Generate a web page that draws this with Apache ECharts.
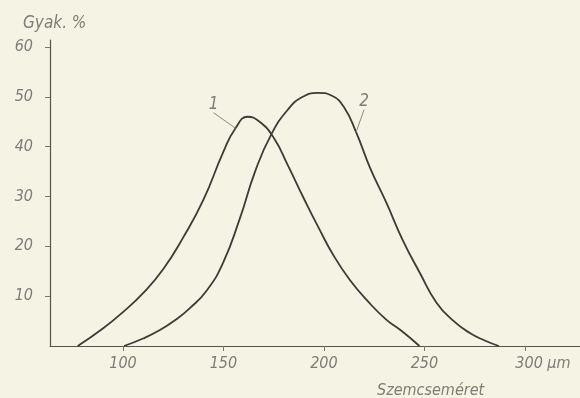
<!DOCTYPE html>
<html>
<head>
<meta charset="utf-8">
<script src="https://cdn.jsdelivr.net/npm/echarts@6/dist/echarts.min.js"></script>
<style>
html,body{margin:0;padding:0;background:#f5f3e3;}
#c{width:580px;height:398px;}
</style>
</head>
<body>
<div id="c"></div>
<script>
// Curve 1: particle size (µm) and frequency (%)
const size1 = [77.5, 90, 100, 110, 120, 130, 140, 150, 156, 162, 168, 175, 182, 190, 197, 205, 213, 222, 231, 239, 247.5];
const freq1 = [0, 3.5, 6.8, 10.6, 15.4, 21.8, 29.3, 39.0, 43.7, 46.0, 45.0, 41.8, 36.3, 29.6, 24.0, 18.0, 13.2, 8.9, 5.3, 2.9, 0];
// Curve 2
const size2 = [100.5, 110, 118.4, 126, 133.3, 141.8, 149.8, 158, 166, 174, 182, 189, 197, 204, 210, 216, 223, 231, 239, 247.8, 256, 264, 272.6, 280, 287];
const freq2 = [0, 1.5, 3.2, 5.2, 7.6, 11.2, 16.7, 25.4, 35.3, 42.6, 47.4, 49.9, 50.8, 50.2, 47.9, 42.9, 35.7, 28.8, 21.4, 14.6, 8.7, 5.2, 2.6, 1.1, 0];
// Curve labels and where they attach (index into data)
const curveNames = ['1', '2'];
const labelIndex = [8, 15];
// Axis ticks
const xTicks = [100, 150, 200, 250, 300];
const yTicks = [10, 20, 30, 40, 50, 60];
const xUnit = 'μm';
const xTitle = 'Szemcseméret';
const yTitle = 'Gyak. %';

const FONT = "'Liberation Sans Narrow','DejaVu Sans Condensed','Liberation Sans',sans-serif";
const TXT = '#7d7d78';
const LINE = '#3b3b38';

function build(xs, ys, li, name) {
  return xs.map((x, i) => {
    const d = {value: [x, ys[i]]};
    if (i === li) {
      d.label = {show: true, formatter: name};
      d.labelLine = {show: true};
    }
    return d;
  });
}

const chart = echarts.init(document.getElementById('c'));
const mkSeries = (xs, ys, li, name, dx, dy) => ({
  type: 'line',
  name: name,
  data: build(xs, ys, li, name),
  smooth: 0.5,
  symbol: 'circle',
  symbolSize: 0.01,
  showSymbol: true,
  lineStyle: {color: LINE, width: 1.8},
  itemStyle: {color: LINE},
  label: {show: false, position: 'inside', fontFamily: FONT, fontStyle: 'italic', fontSize: 17, color: TXT},
  labelLine: {show: false, lineStyle: {color: '#8a8a85', width: 1}},
  labelLayout: () => ({dx: dx, dy: dy}),
  emphasis: {disabled: true},
  animation: false
});

chart.setOption({
  backgroundColor: '#f5f3e3',
  animation: false,
  grid: {left: 50, right: 0, top: 40, bottom: 52, containLabel: false},
  xAxis: {
    type: 'value',
    min: 63.7,
    max: 327.4,
    splitLine: {show: false},
    axisLine: {show: true, lineStyle: {color: '#55554f', width: 1.2}},
    axisTick: {show: true, customValues: xTicks, length: 5, lineStyle: {color: '#777'}},
    axisLabel: {
      customValues: xTicks,
      margin: 10,
      fontFamily: FONT, fontStyle: 'italic', fontSize: 16, color: TXT,
      formatter: v => v === 300 ? '{u|' + v + ' ' + xUnit + '}' : String(v),
      rich: {u: {fontFamily: FONT, fontStyle: 'italic', fontSize: 16, color: TXT, padding: [0, 0, 0, 36]}}
    }
  },
  yAxis: {
    type: 'value',
    min: 0,
    max: 61.4,
    splitLine: {show: false},
    axisLine: {show: true, lineStyle: {color: '#55554f', width: 1.2}},
    axisTick: {show: true, customValues: yTicks, length: 5, lineStyle: {color: '#777'}},
    axisLabel: {
      customValues: yTicks,
      margin: 17,
      fontFamily: FONT, fontStyle: 'italic', fontSize: 16, color: TXT
    }
  },
  graphic: [
    {type: 'text', left: 23, top: 15, style: {text: yTitle, font: 'italic 17px ' + FONT, fill: TXT}},
    {type: 'text', left: 377, top: 383, style: {text: xTitle, font: 'italic 16px ' + FONT, fill: TXT}}
  ],
  series: [
    mkSeries(size1, freq1, labelIndex[0], curveNames[0], -22, -24),
    mkSeries(size2, freq2, labelIndex[1], curveNames[1], 8, -31)
  ]
});
</script>
</body>
</html>
